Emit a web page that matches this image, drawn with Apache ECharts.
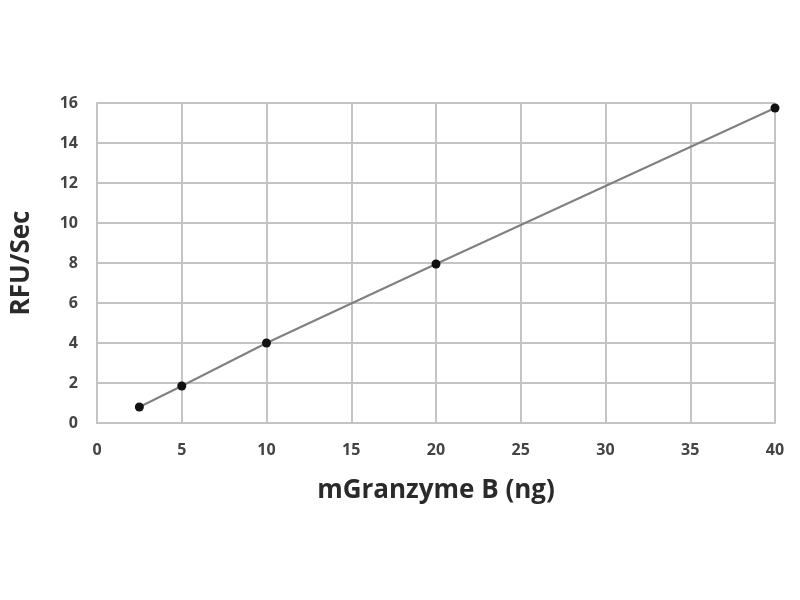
<!DOCTYPE html>
<html>
<head>
<meta charset="utf-8">
<script src="https://cdn.jsdelivr.net/npm/echarts@6/dist/echarts.min.js"></script>
<style>
  html, body { margin: 0; padding: 0; background: #fff; }
  #chart { width: 800px; height: 600px; }
</style>
</head>
<body>
<div id="chart"></div>
<script>
var amount_ng = [2.5, 5, 10, 20, 40];
var rfu_sec = [0.8, 1.85, 4.0, 7.95, 15.75];

var pts = [];
for (var i = 0; i < amount_ng.length; i++) {
    pts.push([amount_ng[i], rfu_sec[i]]);
}

var chart = echarts.init(document.getElementById('chart'));
var gridLine = { show: true, lineStyle: { color: '#c4c4c4', width: 2 } };
var tickText = { color: '#444', fontSize: 16, fontWeight: 'bold', fontFamily: 'Open Sans' };
var titleText = { fontSize: 26, fontWeight: 'bold', color: '#2a2a2a', fontFamily: 'Open Sans' };

chart.setOption({
    backgroundColor: '#fff',
    animation: false,
    grid: { left: 97, right: 25, top: 103, bottom: 177 },
    xAxis: {
        type: 'value',
        min: 0, max: 40, interval: 5,
        name: 'mGranzyme B (ng)',
        nameLocation: 'middle',
        nameGap: 55,
        nameTextStyle: titleText,
        axisLine: { show: true, lineStyle: { color: '#c4c4c4', width: 2 } },
        axisTick: { show: false },
        axisLabel: Object.assign({ margin: 19 }, tickText),
        splitLine: gridLine
    },
    yAxis: {
        type: 'value',
        min: 0, max: 16, interval: 2,
        name: 'RFU/Sec',
        nameLocation: 'middle',
        nameGap: 62,
        nameTextStyle: titleText,
        axisLine: { show: true, lineStyle: { color: '#c4c4c4', width: 2 } },
        axisTick: { show: false },
        axisLabel: Object.assign({ margin: 19 }, tickText),
        splitLine: gridLine
    },
    series: [{
        type: 'line',
        data: pts,
        symbol: 'circle',
        symbolSize: 9,
        itemStyle: { color: '#111' },
        lineStyle: { color: '#808080', width: 2 }
    }]
});
</script>
</body>
</html>
